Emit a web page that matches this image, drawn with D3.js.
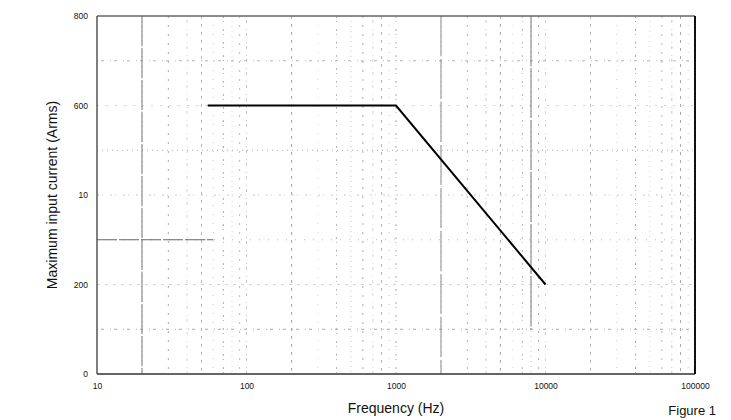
<!DOCTYPE html>
<html>
<head>
<meta charset="utf-8">
<script src="https://cdn.jsdelivr.net/npm/d3@7"></script>
<style>
  body { margin: 0; background: #fff; }
  text { font-family: "Liberation Sans", Arial, sans-serif; fill: #111; }
</style>
</head>
<body>
<script>
(function() {
    var w = 731,
        h = 420;
    // data
    var freq = [55, 1000, 10000];
    var current = [600, 600, 200];
    var xTicks = [10, 100, 1000, 10000, 100000];
    var yTicks = [0, 200, 400, 600, 800];
    var yTickLabels = ['0', '200', '10', '600', '800'];
    var yGrid = [100, 200, 300, 400, 500, 600, 700];
    var xGrid = [20, 30, 40, 50, 60, 70, 80, 90, 100,
                 200, 300, 400, 500, 600, 700, 800, 900, 1000,
                 2000, 3000, 4000, 5000, 6000, 7000, 8000, 9000, 10000,
                 20000, 30000, 40000, 50000, 60000, 70000, 80000, 90000];

    var x = d3.scaleLog().domain([10, 100000]).range([97, 695]);
    var y = d3.scaleLinear().domain([0, 800]).range([374, 16]);

    var svg = d3.select('body')
        .append('svg')
        .attr('width', w)
        .attr('height', h);

    // faint broken grid, looks like a photocopy
    var dashes = ['1,4', '2,7', '1,3,3,6', '3,5', '1,8', '2,3,1,7'];
    var shades = ['#c8c8c8', '#aaa', '#d4d4d4', '#b8b8b8'];
    svg.append('g').selectAll('line')
        .data(xGrid)
        .join('line')
        .attr('x1', function(d) { return x(d); })
        .attr('x2', function(d) { return x(d); })
        .attr('y1', y(800))
        .attr('y2', y(0))
        .attr('stroke', function(d, i) { return shades[i % shades.length]; })
        .attr('stroke-width', 1)
        .attr('stroke-dasharray', function(d, i) { return dashes[i % dashes.length]; });
    svg.append('g').selectAll('line')
        .data(yGrid)
        .join('line')
        .attr('x1', x(10))
        .attr('x2', x(100000))
        .attr('y1', function(d) { return y(d); })
        .attr('y2', function(d) { return y(d); })
        .attr('stroke', function(d, i) { return shades[(i + 1) % shades.length]; })
        .attr('stroke-width', 1)
        .attr('stroke-dasharray', function(d, i) { return dashes[(i + 2) % dashes.length]; });

    // a few darker grid traces
    svg.append('line')
        .attr('x1', x(20)).attr('x2', x(20))
        .attr('y1', y(800)).attr('y2', y(0))
        .attr('stroke', '#777').attr('stroke-dasharray', '30,2');
    svg.append('line')
        .attr('x1', x(10)).attr('x2', x(60))
        .attr('y1', y(300)).attr('y2', y(300))
        .attr('stroke', '#666').attr('stroke-dasharray', '20,2');
    svg.append('line')
        .attr('x1', x(2000)).attr('x2', x(2000))
        .attr('y1', y(800)).attr('y2', y(0))
        .attr('stroke', '#888').attr('stroke-dasharray', '40,3');
    svg.append('line')
        .attr('x1', x(8000)).attr('x2', x(8000))
        .attr('y1', y(800)).attr('y2', y(100))
        .attr('stroke', '#777').attr('stroke-dasharray', '50,2');

    // frame
    var frame = svg.append('g').attr('fill', 'none');
    frame.append('line').attr('x1', x(10)).attr('x2', x(100000))
        .attr('y1', y(800)).attr('y2', y(800)).attr('stroke', '#666').attr('stroke-width', 1.5);
    frame.append('line').attr('x1', x(10)).attr('x2', x(100000))
        .attr('y1', y(0)).attr('y2', y(0)).attr('stroke', '#333').attr('stroke-width', 1.5);
    frame.append('line').attr('x1', x(10)).attr('x2', x(10))
        .attr('y1', y(800)).attr('y2', y(0)).attr('stroke', '#555').attr('stroke-width', 1.5);
    frame.append('line').attr('x1', x(100000)).attr('x2', x(100000))
        .attr('y1', y(800)).attr('y2', y(0)).attr('stroke', '#111').attr('stroke-width', 2);

    // axes
    var xAxis = d3.axisBottom(x)
        .tickValues(xTicks)
        .tickFormat(d3.format('d'))
        .tickSize(0)
        .tickPadding(9);
    svg.append('g')
        .attr('transform', 'translate(0,' + y(0) + ')')
        .call(xAxis)
        .call(function(g) { g.select('.domain').remove(); })
        .selectAll('text')
        .attr('font-size', 8.5)
        .attr('font-family', '"Liberation Sans", Arial, sans-serif');

    var yAxis = d3.axisLeft(y)
        .tickValues(yTicks)
        .tickFormat(function(d, i) { return yTickLabels[i]; })
        .tickSize(0)
        .tickPadding(9);
    svg.append('g')
        .attr('transform', 'translate(' + x(10) + ',0)')
        .call(yAxis)
        .call(function(g) { g.select('.domain').remove(); })
        .selectAll('text')
        .attr('font-size', 8.5)
        .attr('font-family', '"Liberation Sans", Arial, sans-serif');

    // the curve
    var pts = d3.zip(freq, current);
    svg.append('path')
        .datum(pts)
        .attr('fill', 'none')
        .attr('stroke', '#000')
        .attr('stroke-width', 2)
        .attr('d', d3.line()
            .x(function(d) { return x(d[0]); })
            .y(function(d) { return y(d[1]); }));

    // titles
    svg.append('text')
        .attr('x', (x(10) + x(100000)) / 2)
        .attr('y', 413)
        .attr('text-anchor', 'middle')
        .attr('font-size', 14)
        .text('Frequency (Hz)');
    svg.append('text')
        .attr('transform', 'translate(57,' + (y(0) + y(800)) / 2 + ') rotate(-90)')
        .attr('text-anchor', 'middle')
        .attr('font-size', 14)
        .text('Maximum input current (Arms)');
    svg.append('text')
        .attr('x', 716)
        .attr('y', 415)
        .attr('text-anchor', 'end')
        .attr('font-size', 13)
        .text('Figure 1');
})();
</script>
</body>
</html>
